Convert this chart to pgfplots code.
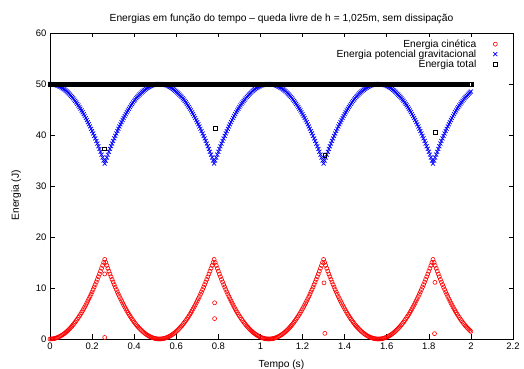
\documentclass[border=0pt]{standalone}
\usepackage{pgfplots}
\pgfplotsset{compat=1.18}
\usepackage{pgfplotstable}
\usepackage{fontspec}
\setmainfont{Liberation Sans}
\pgfplotstableread{
t ke pe et
0.000 0.00 50.00 50
0.005 0.01 49.99 50
0.010 0.02 49.98 50
0.015 0.05 49.95 50
0.020 0.09 49.91 50
0.025 0.14 49.86 50
0.030 0.21 49.79 50
0.035 0.28 49.72 50
0.040 0.37 49.63 50
0.045 0.47 49.53 50
0.050 0.58 49.42 50
0.055 0.70 49.30 50
0.060 0.83 49.17 50
0.065 0.98 49.02 50
0.070 1.13 48.87 50
0.075 1.30 48.70 50
0.080 1.48 48.52 50
0.085 1.67 48.33 50
0.090 1.87 48.13 50
0.095 2.08 47.92 50
0.100 2.31 47.69 50
0.105 2.54 47.46 50
0.110 2.79 47.21 50
0.115 3.05 46.95 50
0.120 3.32 46.68 50
0.125 3.61 46.39 50
0.130 3.90 46.10 50
0.135 4.21 45.79 50
0.140 4.52 45.48 50
0.145 4.85 45.15 50
0.150 5.19 44.81 50
0.155 5.54 44.46 50
0.160 5.91 44.09 50
0.165 6.28 43.72 50
0.170 6.67 43.33 50
0.175 7.07 42.93 50
0.180 7.48 42.52 50
0.185 7.90 42.10 50
0.190 8.33 41.67 50
0.195 8.78 41.22 50
0.200 9.23 40.77 50
0.205 9.70 40.30 50
0.210 10.18 39.82 50
0.215 10.67 39.33 50
0.220 11.17 38.83 50
0.225 11.68 38.32 50
0.230 12.21 37.79 50
0.235 12.74 37.26 50
0.240 13.29 36.71 50
0.245 13.85 36.15 50
0.250 14.42 35.58 50
0.255 15.01 34.99 50
0.260 15.60 34.40 50
0.265 15.01 34.99 50
0.270 14.42 35.58 50
0.275 13.85 36.15 50
0.280 13.29 36.71 50
0.285 12.74 37.26 50
0.290 12.21 37.79 50
0.295 11.68 38.32 50
0.300 11.17 38.83 50
0.305 10.67 39.33 50
0.310 10.18 39.82 50
0.315 9.70 40.30 50
0.320 9.23 40.77 50
0.325 8.78 41.22 50
0.330 8.33 41.67 50
0.335 7.90 42.10 50
0.340 7.48 42.52 50
0.345 7.07 42.93 50
0.350 6.67 43.33 50
0.355 6.28 43.72 50
0.360 5.91 44.09 50
0.365 5.54 44.46 50
0.370 5.19 44.81 50
0.375 4.85 45.15 50
0.380 4.52 45.48 50
0.385 4.21 45.79 50
0.390 3.90 46.10 50
0.395 3.61 46.39 50
0.400 3.32 46.68 50
0.405 3.05 46.95 50
0.410 2.79 47.21 50
0.415 2.54 47.46 50
0.420 2.31 47.69 50
0.425 2.08 47.92 50
0.430 1.87 48.13 50
0.435 1.67 48.33 50
0.440 1.48 48.52 50
0.445 1.30 48.70 50
0.450 1.13 48.87 50
0.455 0.98 49.02 50
0.460 0.83 49.17 50
0.465 0.70 49.30 50
0.470 0.58 49.42 50
0.475 0.47 49.53 50
0.480 0.37 49.63 50
0.485 0.28 49.72 50
0.490 0.21 49.79 50
0.495 0.14 49.86 50
0.500 0.09 49.91 50
0.505 0.05 49.95 50
0.510 0.02 49.98 50
0.515 0.01 49.99 50
0.520 0.00 50.00 50
0.525 0.01 49.99 50
0.530 0.02 49.98 50
0.535 0.05 49.95 50
0.540 0.09 49.91 50
0.545 0.14 49.86 50
0.550 0.21 49.79 50
0.555 0.28 49.72 50
0.560 0.37 49.63 50
0.565 0.47 49.53 50
0.570 0.58 49.42 50
0.575 0.70 49.30 50
0.580 0.83 49.17 50
0.585 0.98 49.02 50
0.590 1.13 48.87 50
0.595 1.30 48.70 50
0.600 1.48 48.52 50
0.605 1.67 48.33 50
0.610 1.87 48.13 50
0.615 2.08 47.92 50
0.620 2.31 47.69 50
0.625 2.54 47.46 50
0.630 2.79 47.21 50
0.635 3.05 46.95 50
0.640 3.32 46.68 50
0.645 3.61 46.39 50
0.650 3.90 46.10 50
0.655 4.21 45.79 50
0.660 4.52 45.48 50
0.665 4.85 45.15 50
0.670 5.19 44.81 50
0.675 5.54 44.46 50
0.680 5.91 44.09 50
0.685 6.28 43.72 50
0.690 6.67 43.33 50
0.695 7.07 42.93 50
0.700 7.48 42.52 50
0.705 7.90 42.10 50
0.710 8.33 41.67 50
0.715 8.78 41.22 50
0.720 9.23 40.77 50
0.725 9.70 40.30 50
0.730 10.18 39.82 50
0.735 10.67 39.33 50
0.740 11.17 38.83 50
0.745 11.68 38.32 50
0.750 12.21 37.79 50
0.755 12.74 37.26 50
0.760 13.29 36.71 50
0.765 13.85 36.15 50
0.770 14.42 35.58 50
0.775 15.01 34.99 50
0.780 15.60 34.40 50
0.785 15.01 34.99 50
0.790 14.42 35.58 50
0.795 13.85 36.15 50
0.800 13.29 36.71 50
0.805 12.74 37.26 50
0.810 12.21 37.79 50
0.815 11.68 38.32 50
0.820 11.17 38.83 50
0.825 10.67 39.33 50
0.830 10.18 39.82 50
0.835 9.70 40.30 50
0.840 9.23 40.77 50
0.845 8.78 41.22 50
0.850 8.33 41.67 50
0.855 7.90 42.10 50
0.860 7.48 42.52 50
0.865 7.07 42.93 50
0.870 6.67 43.33 50
0.875 6.28 43.72 50
0.880 5.91 44.09 50
0.885 5.54 44.46 50
0.890 5.19 44.81 50
0.895 4.85 45.15 50
0.900 4.52 45.48 50
0.905 4.21 45.79 50
0.910 3.90 46.10 50
0.915 3.61 46.39 50
0.920 3.32 46.68 50
0.925 3.05 46.95 50
0.930 2.79 47.21 50
0.935 2.54 47.46 50
0.940 2.31 47.69 50
0.945 2.08 47.92 50
0.950 1.87 48.13 50
0.955 1.67 48.33 50
0.960 1.48 48.52 50
0.965 1.30 48.70 50
0.970 1.13 48.87 50
0.975 0.98 49.02 50
0.980 0.83 49.17 50
0.985 0.70 49.30 50
0.990 0.58 49.42 50
0.995 0.47 49.53 50
1.000 0.37 49.63 50
1.005 0.28 49.72 50
1.010 0.21 49.79 50
1.015 0.14 49.86 50
1.020 0.09 49.91 50
1.025 0.05 49.95 50
1.030 0.02 49.98 50
1.035 0.01 49.99 50
1.040 0.00 50.00 50
1.045 0.01 49.99 50
1.050 0.02 49.98 50
1.055 0.05 49.95 50
1.060 0.09 49.91 50
1.065 0.14 49.86 50
1.070 0.21 49.79 50
1.075 0.28 49.72 50
1.080 0.37 49.63 50
1.085 0.47 49.53 50
1.090 0.58 49.42 50
1.095 0.70 49.30 50
1.100 0.83 49.17 50
1.105 0.98 49.02 50
1.110 1.13 48.87 50
1.115 1.30 48.70 50
1.120 1.48 48.52 50
1.125 1.67 48.33 50
1.130 1.87 48.13 50
1.135 2.08 47.92 50
1.140 2.31 47.69 50
1.145 2.54 47.46 50
1.150 2.79 47.21 50
1.155 3.05 46.95 50
1.160 3.32 46.68 50
1.165 3.61 46.39 50
1.170 3.90 46.10 50
1.175 4.21 45.79 50
1.180 4.52 45.48 50
1.185 4.85 45.15 50
1.190 5.19 44.81 50
1.195 5.54 44.46 50
1.200 5.91 44.09 50
1.205 6.28 43.72 50
1.210 6.67 43.33 50
1.215 7.07 42.93 50
1.220 7.48 42.52 50
1.225 7.90 42.10 50
1.230 8.33 41.67 50
1.235 8.78 41.22 50
1.240 9.23 40.77 50
1.245 9.70 40.30 50
1.250 10.18 39.82 50
1.255 10.67 39.33 50
1.260 11.17 38.83 50
1.265 11.68 38.32 50
1.270 12.21 37.79 50
1.275 12.74 37.26 50
1.280 13.29 36.71 50
1.285 13.85 36.15 50
1.290 14.42 35.58 50
1.295 15.01 34.99 50
1.300 15.60 34.40 50
1.305 15.01 34.99 50
1.310 14.42 35.58 50
1.315 13.85 36.15 50
1.320 13.29 36.71 50
1.325 12.74 37.26 50
1.330 12.21 37.79 50
1.335 11.68 38.32 50
1.340 11.17 38.83 50
1.345 10.67 39.33 50
1.350 10.18 39.82 50
1.355 9.70 40.30 50
1.360 9.23 40.77 50
1.365 8.78 41.22 50
1.370 8.33 41.67 50
1.375 7.90 42.10 50
1.380 7.48 42.52 50
1.385 7.07 42.93 50
1.390 6.67 43.33 50
1.395 6.28 43.72 50
1.400 5.91 44.09 50
1.405 5.54 44.46 50
1.410 5.19 44.81 50
1.415 4.85 45.15 50
1.420 4.52 45.48 50
1.425 4.21 45.79 50
1.430 3.90 46.10 50
1.435 3.61 46.39 50
1.440 3.32 46.68 50
1.445 3.05 46.95 50
1.450 2.79 47.21 50
1.455 2.54 47.46 50
1.460 2.31 47.69 50
1.465 2.08 47.92 50
1.470 1.87 48.13 50
1.475 1.67 48.33 50
1.480 1.48 48.52 50
1.485 1.30 48.70 50
1.490 1.13 48.87 50
1.495 0.98 49.02 50
1.500 0.83 49.17 50
1.505 0.70 49.30 50
1.510 0.58 49.42 50
1.515 0.47 49.53 50
1.520 0.37 49.63 50
1.525 0.28 49.72 50
1.530 0.21 49.79 50
1.535 0.14 49.86 50
1.540 0.09 49.91 50
1.545 0.05 49.95 50
1.550 0.02 49.98 50
1.555 0.01 49.99 50
1.560 0.00 50.00 50
1.565 0.01 49.99 50
1.570 0.02 49.98 50
1.575 0.05 49.95 50
1.580 0.09 49.91 50
1.585 0.14 49.86 50
1.590 0.21 49.79 50
1.595 0.28 49.72 50
1.600 0.37 49.63 50
1.605 0.47 49.53 50
1.610 0.58 49.42 50
1.615 0.70 49.30 50
1.620 0.83 49.17 50
1.625 0.98 49.02 50
1.630 1.13 48.87 50
1.635 1.30 48.70 50
1.640 1.48 48.52 50
1.645 1.67 48.33 50
1.650 1.87 48.13 50
1.655 2.08 47.92 50
1.660 2.31 47.69 50
1.665 2.54 47.46 50
1.670 2.79 47.21 50
1.675 3.05 46.95 50
1.680 3.32 46.68 50
1.685 3.61 46.39 50
1.690 3.90 46.10 50
1.695 4.21 45.79 50
1.700 4.52 45.48 50
1.705 4.85 45.15 50
1.710 5.19 44.81 50
1.715 5.54 44.46 50
1.720 5.91 44.09 50
1.725 6.28 43.72 50
1.730 6.67 43.33 50
1.735 7.07 42.93 50
1.740 7.48 42.52 50
1.745 7.90 42.10 50
1.750 8.33 41.67 50
1.755 8.78 41.22 50
1.760 9.23 40.77 50
1.765 9.70 40.30 50
1.770 10.18 39.82 50
1.775 10.67 39.33 50
1.780 11.17 38.83 50
1.785 11.68 38.32 50
1.790 12.21 37.79 50
1.795 12.74 37.26 50
1.800 13.29 36.71 50
1.805 13.85 36.15 50
1.810 14.42 35.58 50
1.815 15.01 34.99 50
1.820 15.60 34.40 50
1.825 15.01 34.99 50
1.830 14.42 35.58 50
1.835 13.85 36.15 50
1.840 13.29 36.71 50
1.845 12.74 37.26 50
1.850 12.21 37.79 50
1.855 11.68 38.32 50
1.860 11.17 38.83 50
1.865 10.67 39.33 50
1.870 10.18 39.82 50
1.875 9.70 40.30 50
1.880 9.23 40.77 50
1.885 8.78 41.22 50
1.890 8.33 41.67 50
1.895 7.90 42.10 50
1.900 7.48 42.52 50
1.905 7.07 42.93 50
1.910 6.67 43.33 50
1.915 6.28 43.72 50
1.920 5.91 44.09 50
1.925 5.54 44.46 50
1.930 5.19 44.81 50
1.935 4.85 45.15 50
1.940 4.52 45.48 50
1.945 4.21 45.79 50
1.950 3.90 46.10 50
1.955 3.61 46.39 50
1.960 3.32 46.68 50
1.965 3.05 46.95 50
1.970 2.79 47.21 50
1.975 2.54 47.46 50
1.980 2.31 47.69 50
1.985 2.08 47.92 50
1.990 1.87 48.13 50
1.995 1.67 48.33 50
2.000 1.48 48.52 50
}\energia
\begin{document}
\begin{tikzpicture}
\begin{axis}[name=ax, scale only axis, width=463bp, height=306bp,
  xmin=0, xmax=2.2, ymin=0, ymax=60,
  xtick={0,0.2,0.4,0.6,0.8,1,1.2,1.4,1.6,1.8,2,2.2},
  ytick={0,10,20,30,40,50,60},
  tick align=inside, major tick length=4.5bp,
  tick style={black, line width=0.6bp},
  axis line style={line width=0.8bp},
  /pgf/number format/assume math mode=true,
  font=\fontsize{9.5}{11}\selectfont,
  title={Energias em função do tempo – queda livre de h = 1,025m, sem dissipação},
  title style={at={(axis description cs:0.5,1)}, anchor=center, yshift=8.5bp, font=\fontsize{10.3}{12}\selectfont},
  xlabel={Tempo (s)},
  xlabel style={at={(axis description cs:0.5,-0.085)}, anchor=center, font=\fontsize{10.3}{12}\selectfont},
  ylabel={Energia (J)},
  ylabel style={at={(axis description cs:-0.073,0.47)}, anchor=center, font=\fontsize{10.3}{12}\selectfont},
  legend cell align=right, legend plot pos=right,
  legend style={draw=none, fill=none, at={(axis description cs:1,1)}, anchor=north east, xshift=-15.5bp, yshift=-4.5bp,
    font=\fontsize{10.3}{12}\selectfont, row sep=-3bp, column sep=15bp, inner sep=0pt},
]
\addplot[only marks, red, mark=o, mark size=2bp, mark options={line width=0.6bp}] table[x=t, y=ke] {\energia};
\addlegendentry{Energia cinética}
\addplot[only marks, blue, mark=x, mark size=2.8bp, mark options={line width=0.7bp}] table[x=t, y=pe] {\energia};
\addlegendentry{Energia potencial gravitacional}
\addplot[only marks, black, mark=square, mark size=1.9bp, mark options={line width=0.4bp}] table[x=t, y=et] {\energia};
\addlegendentry{Energia total}
\addplot[only marks, red, mark=o, mark size=2bp, mark options={line width=0.6bp}, forget plot] coordinates {
(0.260,12.75) (0.260,0.3) (0.782,7.1) (0.782,4.0) (1.302,11.0) (1.306,1.1) (1.829,11.1) (1.827,1.05)};
\addplot[only marks, black, mark=square, mark size=1.9bp, mark options={line width=0.4bp}, forget plot] coordinates {
(0.257,37.3) (0.784,41.3) (1.305,36.1) (1.830,40.5)};
\end{axis}
\pgfresetboundingbox
\path ([shift={(-50bp,-30bp)}]ax.south west) rectangle ([shift={(11bp,33bp)}]ax.north east);
\end{tikzpicture}
\end{document}
